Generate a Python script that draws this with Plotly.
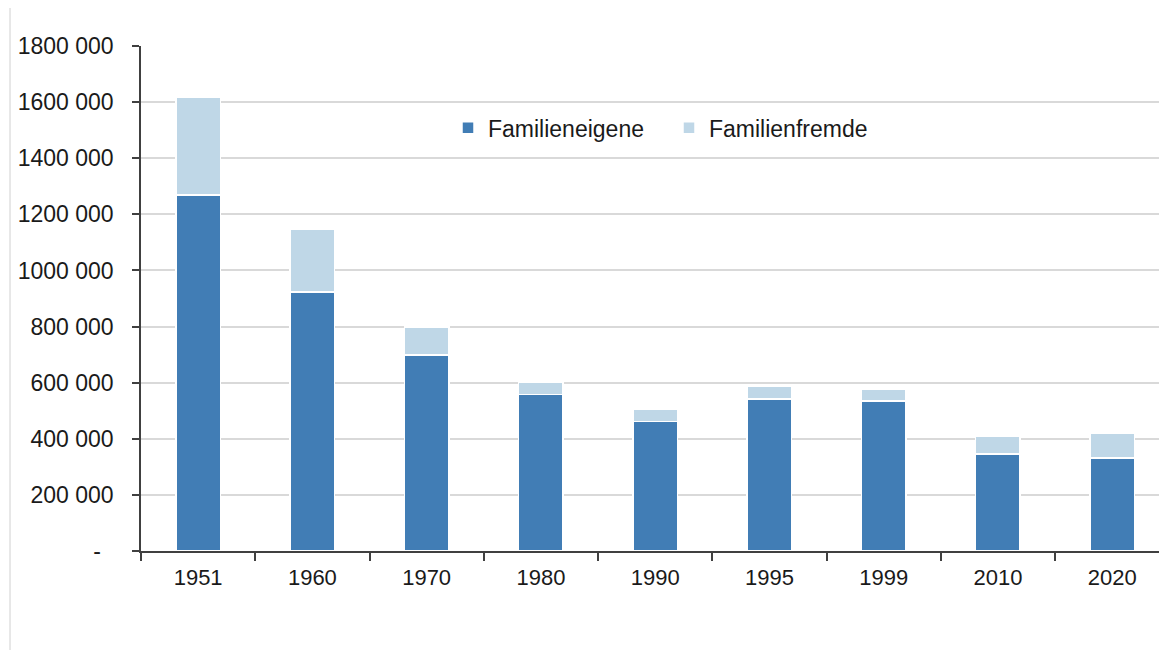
import plotly.graph_objects as go

years = ["1951", "1960", "1970", "1980", "1990", "1995", "1999", "2010", "2020"]
familieneigene = [1269000, 923000, 698000, 557000, 461000, 542000, 535000, 346000, 332000]
familienfremde = [349000, 225000, 100000, 45000, 46000, 46000, 43000, 64000, 87000]

y_ticks = [0, 200000, 400000, 600000, 800000, 1000000, 1200000, 1400000, 1600000, 1800000]
y_ticktext = ["-\u00a0\u00a0", "200 000", "400 000", "600 000", "800 000", "1000 000",
              "1200 000", "1400 000", "1600 000", "1800 000"]

FONT = "Liberation Sans, Arial, sans-serif"
FS = 23

# page has an 8px body margin; figure is sized/offset to compensate
W, H = 1159, 642
ML, MT, MB, MR = 133, 38, 99, 0
PW = W - ML - MR
PH = H - MT - MB

fig = go.Figure()
fig.add_trace(go.Bar(
    x=years, y=familieneigene, name="Familieneigene",
    marker=dict(color="#417DB5", line=dict(color="white", width=1.5)),
    width=0.39,
))
fig.add_trace(go.Bar(
    x=years, y=familienfremde, name="Familienfremde",
    marker=dict(color="#BFD7E7", line=dict(color="white", width=1.5)),
    width=0.39,
))

fig.update_layout(
    barmode="stack",
    width=W, height=H,
    margin=dict(l=ML, r=MR, t=MT, b=MB),
    paper_bgcolor="white", plot_bgcolor="white",
    font=dict(family=FONT, size=FS, color="#1a1a1a"),
    showlegend=True,
    legend=dict(
        orientation="h", x=(440 - ML) / PW, y=0.838, xanchor="left", yanchor="middle",
        font=dict(size=FS, family=FONT, color="#1a1a1a"),
        entrywidth=176, entrywidthmode="pixels",
        bgcolor="rgba(0,0,0,0)", traceorder="normal",
    ),
    xaxis=dict(
        type="category", range=[-0.5, 8.48],
        showline=True, linecolor="#404040", linewidth=1.5,
        ticks="outside", tickson="boundaries", ticklen=8, tickcolor="#404040", tickwidth=1.5,
        showgrid=False, ticklabelstandoff=6,
        tickfont=dict(size=FS - 1, family=FONT, color="#1a1a1a"),
    ),
    yaxis=dict(
        range=[0, 1800000],
        tickvals=y_ticks, ticktext=y_ticktext,
        showline=True, linecolor="#404040", linewidth=1.5,
        ticks="outside", ticklen=7, tickcolor="#404040", tickwidth=1.5,
        showgrid=True, gridcolor="#D9D9D9", gridwidth=1.5,
        zeroline=False, ticklabelstandoff=14,
        tickfont=dict(size=FS, family=FONT, color="#1a1a1a"),
    ),
    shapes=[dict(
        type="line", xref="paper", yref="paper",
        x0=(2 - ML) / PW, x1=(2 - ML) / PW,
        y0=-MB / PH, y1=(PH + MT) / PH,
        line=dict(color="#D0D0D0", width=1),
    )],
)

fig.write_html("out.html")
